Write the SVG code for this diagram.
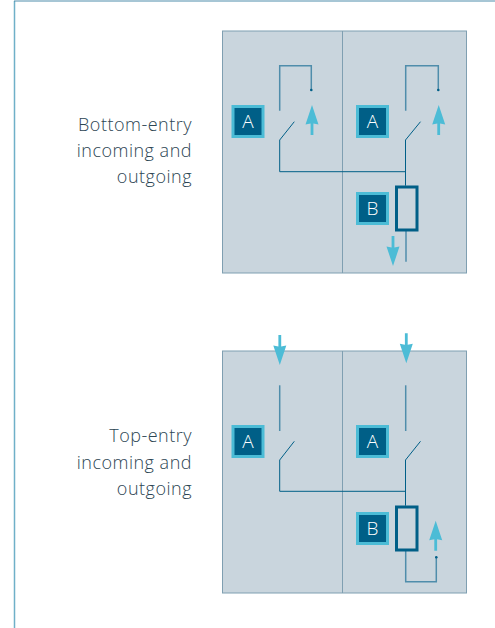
<svg xmlns="http://www.w3.org/2000/svg" width="495" height="628" viewBox="0 0 495 628">
<style>
.panel{fill:#c9d5dd;stroke:#7f9fb1;stroke-width:1}
.wirel{fill:none;stroke:#4f8dab;stroke-width:1.5}
.thin{fill:none;stroke:#005f87;stroke-width:1}
.badge{fill:#005f87;stroke:#4cbcd6;stroke-width:3}
.badget{font-family:"Open Sans","Noto Sans",sans-serif;font-size:19px;font-weight:300;fill:#ffffff;text-anchor:middle}
.fuse{fill:none;stroke:#005f87;stroke-width:3}
.arrow{fill:#4cbcd6}
.label{font-family:"Open Sans","Noto Sans",sans-serif;font-size:18px;font-weight:300;letter-spacing:0.5px;fill:#2c4553;text-anchor:end}
.dot{fill:#005f87}
</style>
<defs>
<path id="up" class="arrow" d="M0 0L6.500 19.500L1.400 18.500V30H-1.400V18.500L-6.500 19.500Z"/>
<path id="down" class="arrow" d="M0 0L-6.500 -19.500L-1.400 -18.500V-30H1.400V-18.500L6.500 -19.500Z"/>
</defs>
<g id="frame"><path d="M14.500 628V1" fill="none" stroke="#6fb0c8" stroke-width="1.500"/><path d="M14 1H495" fill="none" stroke="#4f8dab" stroke-width="1"/></g>
<g id="label-bottom"><text class="label" x="192" y="131">Bottom-entry</text><text class="label" x="192" y="157">incoming and</text><text class="label" x="192" y="183">outgoing</text></g>
<g id="label-top"><text class="label" x="192" y="442">Top-entry</text><text class="label" x="192" y="469">incoming and</text><text class="label" x="192" y="495">outgoing</text></g>
<g id="panel-1"><rect class="panel" x="222.500" y="31" width="244" height="242"/><path class="panel" d="M342.500 31V273"/></g>
<g id="panel-2"><rect class="panel" x="222.500" y="351" width="244" height="242"/><path class="panel" d="M342.500 351V593"/></g>
<g id="connectors">
<path class="wirel" d="M279.700 110.700V65.700H311.300V90"/><path class="wirel" d="M405.700 110.700V65.700H438.300V90"/>
<circle class="dot" cx="311.300" cy="90" r="1.300"/><circle class="dot" cx="438.300" cy="90" r="1.300"/>
<path class="thin" d="M294.300 121.700L279.700 140V171.700H405.500"/><path class="thin" d="M420.500 121.700L405.500 140V185.700"/>
<path class="wirel" d="M406 231V261.700"/>
<use href="#up" x="312" y="105"/><use href="#up" x="438.700" y="105"/><use href="#down" x="393" y="266"/>
<path class="wirel" d="M279.700 385.300V431"/><path class="wirel" d="M405.700 385.300V431"/>
<path class="thin" d="M294.300 441.300L279.700 460V491.300H405.500"/><path class="thin" d="M420.500 441.300L405.500 460V505.700"/>
<path class="wirel" d="M405.700 550.700V581.700H436.300V557.300"/><circle class="dot" cx="436.300" cy="557.300" r="1.300"/>
<use href="#down" x="279.800" y="365"/><use href="#down" x="406.300" y="363.300"/><use href="#up" x="435.700" y="520.700"/>
</g>
<g id="a1"><rect class="badge" x="233" y="106.500" width="30" height="30"/><text class="badget" x="248" y="128">A</text></g>
<g id="a2"><rect class="badge" x="357.500" y="106.500" width="30" height="30"/><text class="badget" x="372.500" y="128">A</text></g>
<g id="b1"><rect class="badge" x="357.500" y="193.500" width="30" height="30"/><text class="badget" x="372.500" y="215">B</text></g>
<g id="fuse1"><rect class="fuse" x="396.500" y="187" width="20.500" height="43"/></g>
<g id="a3"><rect class="badge" x="233" y="426.500" width="30" height="30"/><text class="badget" x="248" y="448">A</text></g>
<g id="a4"><rect class="badge" x="357.500" y="426.500" width="30" height="30"/><text class="badget" x="372.500" y="448">A</text></g>
<g id="b2"><rect class="badge" x="357.500" y="513.500" width="30" height="30"/><text class="badget" x="372.500" y="535">B</text></g>
<g id="fuse2"><rect class="fuse" x="396.500" y="507" width="20.500" height="43"/></g>
</svg>
